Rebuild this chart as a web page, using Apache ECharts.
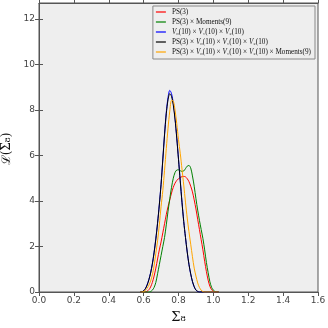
<!DOCTYPE html>
<html>
<head>
<meta charset="utf-8">
<script src="https://cdn.jsdelivr.net/npm/echarts@6/dist/echarts.min.js"></script>
<style>
  html, body { margin: 0; padding: 0; background: #fff; }
  #main { width: 328px; height: 328px; }
</style>
</head>
<body>
<div id="main"></div>
<script>
// sigma_8 sample points
var sigma8 = [0.58, 0.59, 0.60, 0.61, 0.62, 0.63, 0.64, 0.65, 0.66, 0.67, 0.68, 0.69,
  0.70, 0.71, 0.72, 0.73, 0.74, 0.75, 0.76, 0.77, 0.78, 0.79, 0.80, 0.81, 0.82, 0.83,
  0.84, 0.85, 0.86, 0.87, 0.88, 0.89, 0.90, 0.91, 0.92, 0.93, 0.94, 0.95, 0.96, 0.97,
  0.98, 0.99, 1.00, 1.01, 1.02, 1.03];

var names = [
  'PS(3)',
  'PS(3) × Moments(9)',
  'V₀(10) × V₁(10) × V₂(10)',
  'PS(3) × V₀(10) × V₁(10) × V₂(10)',
  'PS(3) × V₀(10) × V₁(10) × V₂(10) × Moments(9)'
];
var colors = ['#ff0000', '#008000', '#0000ff', '#000000', '#ffa500'];

var ps = [0, 0, 0, 0, 0.03, 0.1, 0.22, 0.42, 0.7, 1.05, 1.45, 1.85,
  2.2, 2.6, 3.0, 3.4, 3.75, 4.05, 4.35, 4.6, 4.78, 4.9, 4.98, 5.03, 5.07, 5.08,
  5.06, 4.98, 4.85, 4.65, 4.4, 4.05, 3.65, 3.2, 2.75, 2.3, 1.85, 1.35, 0.9, 0.52,
  0.25, 0.1, 0.03, 0, 0, 0];

var psMoments = [0, 0, 0, 0, 0, 0, 0.02, 0.08, 0.2, 0.42, 0.8, 1.2,
  1.6, 2.0, 2.4, 2.95, 3.55, 4.1, 4.6, 5.0, 5.25, 5.36, 5.37, 5.33, 5.3, 5.32,
  5.42, 5.53, 5.56, 5.45, 5.1, 4.65, 4.1, 3.6, 3.15, 2.75, 2.35, 1.85, 1.3, 0.85,
  0.45, 0.2, 0.08, 0.02, 0, 0];

var vOnly = [0, 0.01, 0.05, 0.15, 0.32, 0.55, 0.85, 1.25, 1.75, 2.35, 3.05, 3.85,
  4.75, 5.85, 6.95, 7.9, 8.55, 8.86, 8.72, 8.3, 7.65, 6.8, 5.85, 4.9, 3.95, 3.1,
  2.4, 1.75, 1.2, 0.78, 0.45, 0.22, 0.08, 0.02, 0, 0, 0, 0, 0, 0,
  0, 0, 0, 0, 0, 0];

var psV = [0, 0.01, 0.05, 0.14, 0.3, 0.53, 0.83, 1.22, 1.72, 2.32, 3.02, 3.82,
  4.72, 5.8, 6.9, 7.83, 8.45, 8.72, 8.6, 8.22, 7.6, 6.76, 5.82, 4.88, 3.94, 3.1,
  2.4, 1.76, 1.22, 0.8, 0.47, 0.24, 0.09, 0.03, 0, 0, 0, 0, 0, 0,
  0, 0, 0, 0, 0, 0];

var psVMoments = [0, 0, 0.02, 0.07, 0.16, 0.3, 0.48, 0.75, 1.15, 1.7, 2.25, 2.95,
  3.75, 4.45, 5.35, 6.3, 7.2, 7.95, 8.42, 8.4, 8.0, 7.4, 6.7, 6.1, 5.4, 4.7,
  3.95, 3.25, 2.65, 2.1, 1.55, 1.05, 0.7, 0.4, 0.2, 0.08, 0.02, 0, 0, 0,
  0, 0, 0, 0, 0, 0];

var curves = [ps, psMoments, vOnly, psV, psVMoments];

var yTicks = [0, 2, 4, 6, 8, 10, 12];

var chart = echarts.init(document.getElementById('main'));

var axisCol = '#555555';
var series = curves.map(function (vals, i) {
  return {
    name: names[i],
    type: 'line',
    symbol: 'none',
    smooth: 0.3,
    lineStyle: { width: 1, color: colors[i] },
    itemStyle: { color: colors[i] },
    data: sigma8.map(function (x, j) { return [x, vals[j]]; })
  };
});

function xAxisCfg(pos, labels) {
  return {
    type: 'value', position: pos, min: 0, max: 1.6, interval: 0.2,
    name: labels ? 'Σ₈' : '',
    nameLocation: 'middle', nameGap: 19,
    nameTextStyle: { fontFamily: 'DejaVu Serif', fontSize: 13, color: '#111' },
    axisLine: { show: true, onZero: false, lineStyle: { color: axisCol, width: 1 } },
    axisTick: { show: true, length: 4, lineStyle: { color: axisCol } },
    axisLabel: {
      show: labels, fontFamily: 'DejaVu Sans', fontSize: 9, color: '#444', margin: 4,
      formatter: function (v) { return v.toFixed(1); }
    },
    splitLine: { show: false }
  };
}

function yAxisCfg(pos, labels) {
  return {
    type: 'value', position: pos, min: 0, max: 12.7, interval: 2,
    name: labels ? 'ℒ(Σ₈)' : '',
    nameLocation: 'middle', nameGap: 16, nameRotate: 90,
    nameTextStyle: { fontFamily: 'DejaVu Serif', fontSize: 12, color: '#111', padding: [0, 3, 0, 0] },
    axisLine: { show: true, lineStyle: { color: axisCol, width: 1 } },
    axisTick: { show: true, length: 4, lineStyle: { color: axisCol } },
    axisLabel: {
      show: labels, fontFamily: 'DejaVu Sans', fontSize: 9, color: '#444', margin: 4,
      showMaxLabel: false,
      formatter: function (v) { return yTicks.indexOf(v) >= 0 ? String(v) : ''; }
    },
    splitLine: { show: false }
  };
}

chart.setOption({
  animation: false,
  backgroundColor: '#ffffff',
  grid: {
    left: 39, right: 10, top: 3, bottom: 36,
    outerBoundsMode: 'none',
    containLabel: false,
    show: true, backgroundColor: '#eeeeee', borderColor: axisCol, borderWidth: 1
  },
  legend: {
    orient: 'vertical', right: 13, top: 6,
    icon: 'rect',
    itemWidth: 10, itemHeight: 1.2, itemGap: 0,
    padding: [1, 4, 2, 3],
    backgroundColor: '#eeeeee', borderColor: '#888888', borderWidth: 1,
    data: names,
    textStyle: {
      fontFamily: 'Liberation Serif', fontSize: 7.2, lineHeight: 10, color: '#111',
      padding: [0, 0, 0, 1],
      rich: { i: { fontFamily: 'Liberation Serif', fontSize: 7.2, lineHeight: 10, fontStyle: 'italic', color: '#111' } }
    },
    formatter: function (n) { return n.replace(/V/g, '{i|V}'); }
  },
  xAxis: [xAxisCfg('bottom', true), xAxisCfg('top', false)],
  yAxis: [yAxisCfg('left', true), yAxisCfg('right', false)],
  series: series
});
</script>
</body>
</html>
